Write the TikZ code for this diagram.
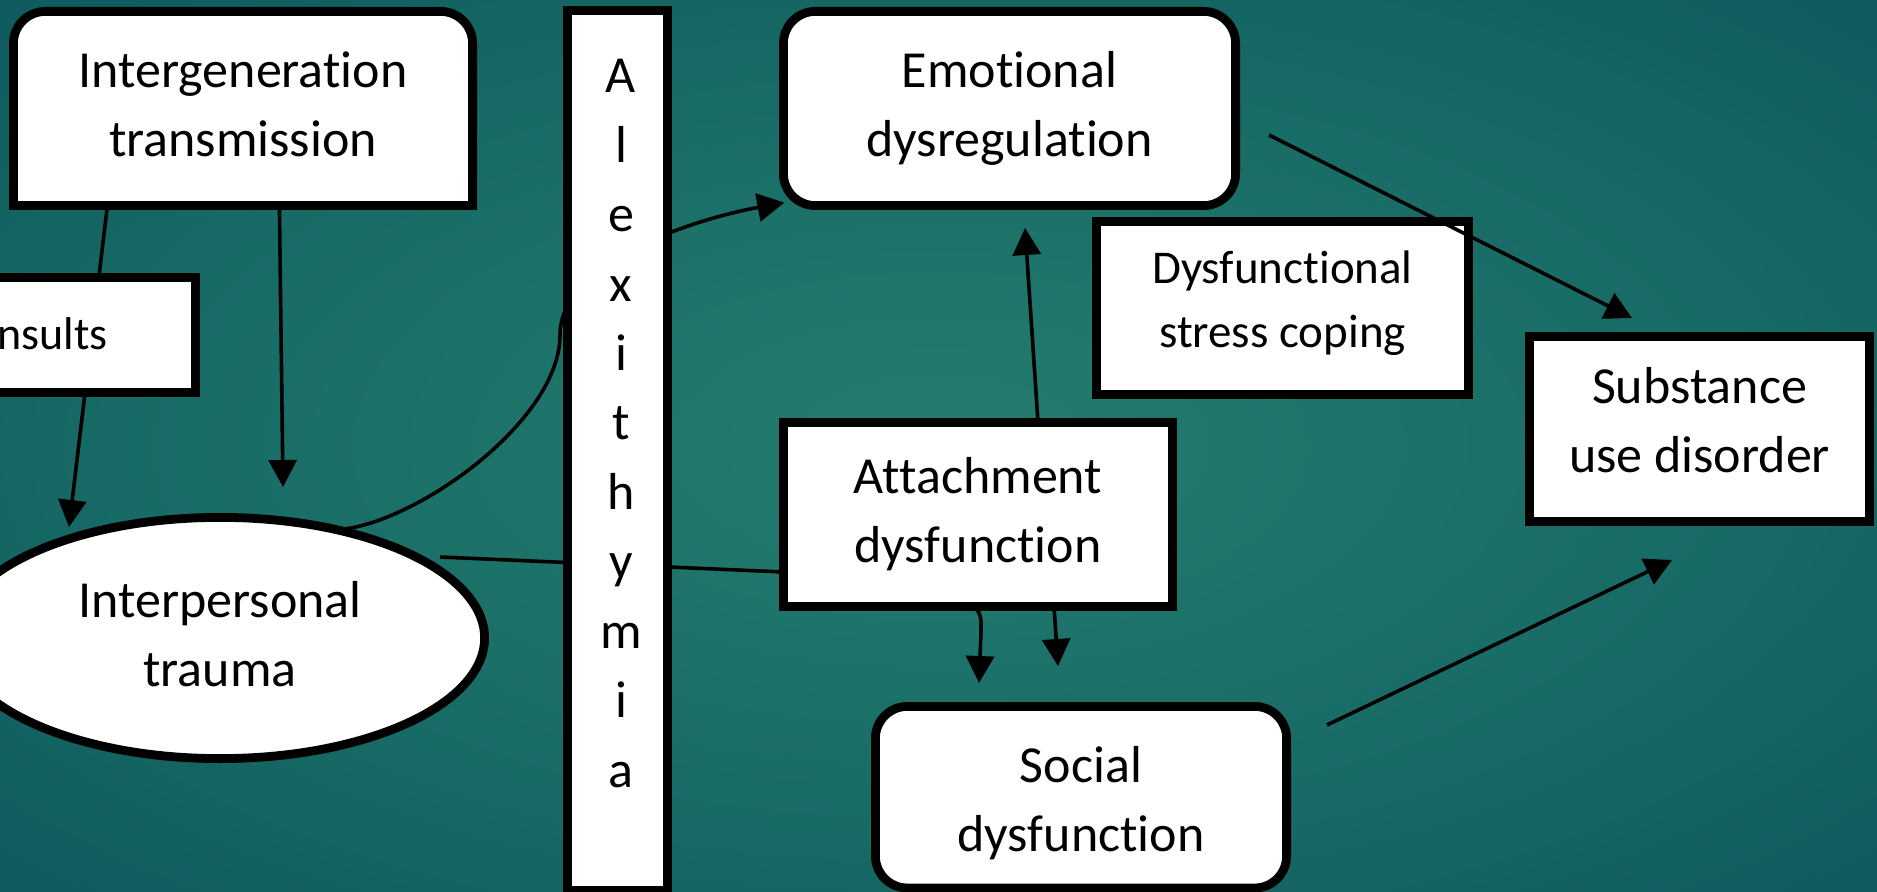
\documentclass[tikz,border=0pt]{standalone}
\usepackage{fontspec}
\setmainfont{Carlito}[Ligatures={NoCommon}]
\usetikzlibrary{arrows.meta,shapes.geometric,shapes.misc}
\pgfdeclarelayer{background}
\pgfsetlayers{background,main}
\definecolor{bgA}{HTML}{247D6F}
\definecolor{bgB}{HTML}{1F766B}
\definecolor{bgC}{HTML}{176A65}
\definecolor{bgD}{HTML}{0F5C5E}
\definecolor{bgE}{HTML}{094B53}
\pgfdeclareradialshading{bgshade}{\pgfpoint{0bp}{0bp}}{color(0bp)=(bgA); color(8bp)=(bgB); color(22bp)=(bgC); color(34bp)=(bgD); color(50bp)=(bgE)}
\tikzset{
  box/.style={draw=black, line width=4.4pt, fill=white, inner sep=0pt, outer sep=0pt,
    align=center, text=black, font=\fontsize{26}{34.5}\selectfont},
  rbox/.style={box, rounded corners=16pt},
  boxline/.style={draw=black, line width=4.4pt, fill=white},
  smalltxt/.style={font=\fontsize{23.5}{32}\selectfont},
  letter/.style={anchor=base, inner sep=0pt, font=\fontsize{26}{34.5}\selectfont},
  link/.style={draw=black, line width=1.8pt},
  arr/.style={link, -{Triangle[length=13.5pt,width=14pt]}},
}
\begin{document}
\begin{tikzpicture}[x=0.5pt,y=-0.5pt]
\useasboundingbox (0,0) rectangle (1877,892);
\clip (0,0) rectangle (1877,892);
\begin{pgfonlayer}{background}
\shade[shading=bgshade] (0,0) rectangle (1877,892);
\end{pgfonlayer}

% nodes
\node[box, draw=none, fill=none, minimum width=229.6pt, minimum height=97.1pt] (ig) at (243,108.5)
  {\strut Intergeneration\\\strut transmission};
\begin{pgfonlayer}{background}
\draw[boxline] (ig.south west) -- ([yshift=-16pt]ig.north west)
  arc[start angle=180, end angle=90, radius=16pt] -- ([xshift=-16pt]ig.north east)
  arc[start angle=90, end angle=0, radius=16pt] -- (ig.south east) -- cycle;
\end{pgfonlayer}

\node[box, ellipse, minimum width=264.6pt, minimum height=120.6pt] (trauma) at (220,638)
  {\strut Interpersonal\\\strut trauma};
\node[rbox, minimum width=226.1pt, minimum height=97.1pt] (emo) at (1009.5,108.5)
  {\strut Emotional\\\strut dysregulation};
\node[box, smalltxt, minimum width=186.1pt, minimum height=86.6pt] (dsc) at (1282.5,308)
  {\strut Dysfunctional\\\strut stress coping\rule[-14.6pt]{0pt}{0pt}};
\node[box, minimum width=194.6pt, minimum height=92.1pt] (att) at (978,514.5)
  {\strut Attachment\\\strut dysfunction};
\node[rbox, minimum width=205.6pt, minimum height=90.8pt] (soc) at (1081,797.2)
  {\rule{0pt}{30pt}\strut Social\\\strut dysfunction};
\node[box, minimum width=170.1pt, minimum height=92.6pt] (sub) at (1699.5,429)
  {\strut Substance\\\strut use disorder\rule[-15.3pt]{0pt}{0pt}};

% connectors passing under the insults box
\draw[arr] ([shift={(94,0)}]ig.south west) -- ([shift={(-151,-111)}]trauma.center);
\draw[arr] ([shift={(266,0)}]ig.south west) -- ([shift={(63,-151)}]trauma.center);

\node[box, chamfered rectangle, chamfered rectangle corners=north east,
  chamfered rectangle xsep=10.5pt, chamfered rectangle ysep=12pt,
  minimum width=117.8pt, minimum height=57.6pt] (ins) at (77.8,335) {};
\node[anchor=base west, inner sep=0pt, font=\fontsize{23}{27}\selectfont] (instext) at (-3,350) {nsults};

% connectors passing under the Alexithymia bar
\coordinate (cv) at (560,335);
\draw[arr] ([shift={(124,-109)}]trauma.center) .. controls (420,520) and (560,420) .. (cv)
  .. controls (560,260) and (700,218) .. ([shift={(1,-3)}]emo.south west);
\draw[link] ([shift={(220,-81)}]trauma.center) -- ([shift={(0,57.5)}]att.west);

\node[box, minimum width=50.1pt, minimum height=439.8pt] (alex) at (617.5,450.2) {};
\foreach \l [count=\i] in {A,l,e,x,i,t,h,y,m,i,a}
  \node[letter] (alex\i) at (621,{93+69.4*(\i-1)}) {\l};

% remaining connectors
\draw[arr] ([shift={(60,0)}]att.north) -- ([shift={(15.5,22.4)}]emo.south);
\draw[arr] ([shift={(33.4,26.5)}]emo.east) -- ([shift={(102.6,-18.4)}]sub.north west);
\draw[arr] ([shift={(-4,0)}]att.south) .. controls +(8,8) and +(0,-12) .. ++(7,25)
  -- ([shift={(-102,-23.4)}]soc.north);
\draw[arr] ([shift={(76,0)}]att.south) -- ([shift={(-23,-40.4)}]soc.north);
\draw[arr] ([shift={(40.4,18.6)}]soc.north east) -- ([shift={(-27.5,38.4)}]sub.south);
\end{tikzpicture}
\end{document}
